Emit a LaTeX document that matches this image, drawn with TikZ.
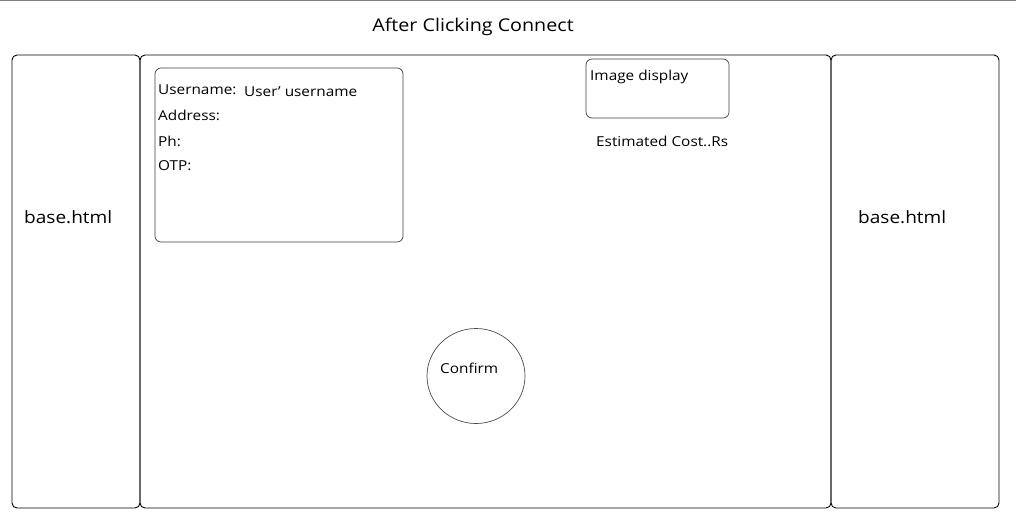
\documentclass[tikz,border=0pt]{standalone}
\usepackage{fontspec}
\setmainfont[FakeStretch=1.12]{Open Sans}
\begin{document}
\begin{tikzpicture}[x=1pt,y=-1pt,
  panel/.style={draw=black,line width=0.9pt,rounded corners=5pt},
  inner/.style={draw=black!75,line width=0.7pt,rounded corners=6pt},
  lbl/.style={inner sep=0pt,anchor=west,font=\fontsize{13.7}{15}\selectfont},
  big/.style={inner sep=0pt,font=\fontsize{17}{19}\selectfont}]
\useasboundingbox (0,0) rectangle (1016,515);
\fill[white] (0,0) rectangle (1016,515);
\draw[black!50,line width=1pt] (0,0.5) -- (1016,0.5);
\node[big,font=\fontsize{17.6}{20}\selectfont] (title) at (473,27) {After Clicking Connect};
% panels
\draw[panel] (140,55) rectangle (12,508);
\draw[panel] (140,55) rectangle (831,508);
\draw[panel] (831,55) rectangle (999,508);
\node[big,anchor=west] (baseL) at (24,217) {base.html};
\node[big,anchor=west] (baseR) at (858,217) {base.html};
% info box
\draw[inner] (155,68) rectangle (403,242);
\node[lbl] (user) at (158,90) {Username:};
\node[lbl] (uval) at (244,92) {User' username};
\node[lbl] (addr) at (158,115) {Address:};
\node[lbl] (ph) at (158,141) {Ph:};
\node[lbl] (otp) at (158,166) {OTP:};
% image display
\draw[inner] (586,59) rectangle (729,118);
\node[lbl] (img) at (590,77) {Image display};
\node[lbl] (cost) at (596,141) {Estimated Cost..Rs};
% confirm
\draw[black!70,line width=0.7pt] (476,376) ellipse [x radius=49, y radius=47.5];
\node[lbl] (conf) at (440,368) {Confirm};
\end{tikzpicture}
\end{document}
